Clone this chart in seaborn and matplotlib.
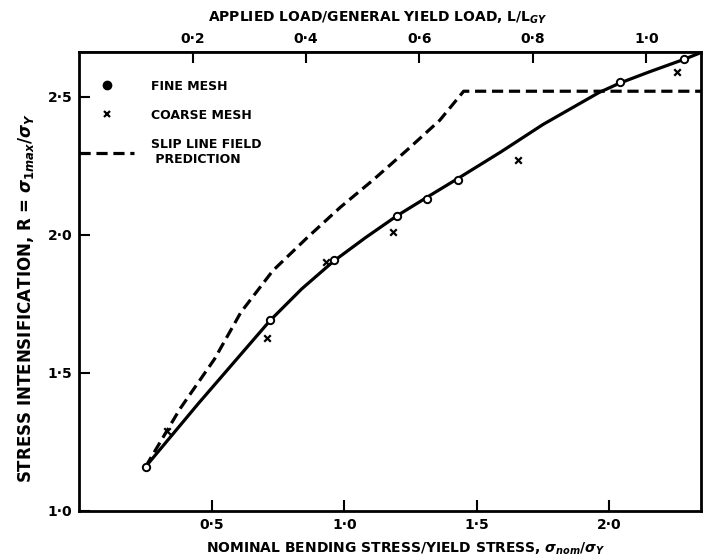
import matplotlib
matplotlib.use("Agg")
import matplotlib.pyplot as plt
from matplotlib.lines import Line2D
from matplotlib.ticker import FuncFormatter
import seaborn as sns

# FE results (sigma_nom/sigma_Y vs R)
fine_x = [0.25, 0.72, 0.96, 1.20, 1.31, 1.43, 2.04, 2.28]
fine_y = [1.16, 1.69, 1.91, 2.07, 2.13, 2.20, 2.555, 2.635]
coarse_x = [0.33, 0.71, 0.93, 1.185, 1.655, 2.255]
coarse_y = [1.29, 1.625, 1.90, 2.01, 2.27, 2.59]

# fitted curve through the fine mesh results
curve_x = [0.25, 0.45, 0.72, 0.84, 0.96, 1.08, 1.20, 1.31, 1.43, 1.59,
           1.75, 1.96, 2.04, 2.15, 2.28, 2.345]
curve_y = [1.16, 1.39, 1.69, 1.805, 1.905, 1.99, 2.07, 2.135, 2.205, 2.30,
           2.40, 2.515, 2.55, 2.59, 2.635, 2.66]

# slip line field prediction
slip_x = [0.25, 0.38, 0.51, 0.61, 0.73, 0.86, 0.985, 1.11, 1.24, 1.36, 1.45, 2.345]
slip_y = [1.16, 1.37, 1.55, 1.72, 1.87, 1.99, 2.10, 2.20, 2.31, 2.415, 2.52, 2.52]

x_ticks = [0.5, 1.0, 1.5, 2.0]
y_ticks = [1.0, 1.5, 2.0, 2.5]
top_ticks = [0.2, 0.4, 0.6, 0.8, 1.0]
load_ratio = 2.139  # sigma_nom/sigma_Y per unit L/L_GY

sns.set_theme(style="ticks")
plt.rcParams["font.family"] = ["DejaVu Sans"]
plt.rcParams["font.weight"] = "bold"
plt.rcParams["text.color"] = "black"
plt.rcParams["axes.labelcolor"] = "black"
plt.rcParams["mathtext.fontset"] = "custom"
plt.rcParams["mathtext.rm"] = "DejaVu Sans:bold"
plt.rcParams["mathtext.it"] = "DejaVu Sans:bold:italic"
plt.rcParams["mathtext.bf"] = "DejaVu Sans:bold"

fig = plt.figure(figsize=(7.04, 5.57), dpi=100)
ax = fig.add_axes([0.1126, 0.0826, 0.883, 0.824])

sns.lineplot(x=curve_x, y=curve_y, color="black", linewidth=2.3, ax=ax)
sns.lineplot(x=slip_x, y=slip_y, color="black", linewidth=2.3,
             linestyle=(0, (3.5, 1.8)), ax=ax)
sns.scatterplot(x=fine_x, y=fine_y, marker="o", s=28, facecolor="white",
                edgecolor="black", linewidth=1.4, zorder=4, ax=ax)
sns.scatterplot(x=coarse_x, y=coarse_y, marker="x", s=22, color="black",
                linewidth=1.6, zorder=4, ax=ax)

ax.set_xlim(0, 2.345)
ax.set_ylim(1.0, 2.662)
ax.set_xticks(x_ticks)
ax.set_yticks(y_ticks)
fmt = FuncFormatter(lambda v, _: f"{v:.1f}".replace(".", "·"))
ax.xaxis.set_major_formatter(fmt)
ax.yaxis.set_major_formatter(fmt)
ax.tick_params(direction="in", length=8, width=1.5, labelsize=10, colors="black")
ax.tick_params(axis="x", pad=5)
ax.tick_params(axis="y", pad=5)
for s in ax.spines.values():
    s.set_linewidth(2)
    s.set_color("black")
    s.set_visible(True)

sec = ax.secondary_xaxis("top", functions=(lambda x: x / load_ratio,
                                           lambda x: x * load_ratio))
sec.set_xticks(top_ticks)
sec.xaxis.set_major_formatter(fmt)
sec.tick_params(direction="in", length=8, width=1.5, labelsize=10, pad=4,
                colors="black")
sec.set_xlabel(r"APPLIED LOAD/GENERAL YIELD LOAD, L/L$_{GY}$", fontsize=10,
               fontweight="bold", labelpad=8)
sec.xaxis.label.set_x(0.48)

ax.set_xlabel(r"NOMINAL BENDING STRESS/YIELD STRESS, $\sigma_{nom}/\sigma_Y$",
              fontsize=10, fontweight="bold", labelpad=6)
ax.xaxis.label.set_x(0.525)
ax.set_ylabel(r"STRESS INTENSIFICATION, R = $\sigma_{1max}/\sigma_Y$",
              fontsize=12, fontweight="bold", labelpad=8)
ax.yaxis.label.set_y(0.465)

handles = [
    Line2D([], [], marker="o", color="black", linestyle="none", markersize=6),
    Line2D([], [], marker="x", color="black", linestyle="none", markersize=5,
           markeredgewidth=1.6),
    Line2D([], [], color="black", linewidth=2.3, linestyle=(0, (3.5, 1.8))),
]
labels = ["FINE MESH", "COARSE MESH", "SLIP LINE FIELD\n PREDICTION"]
ax.legend(handles, labels, loc="upper left", bbox_to_anchor=(0.0, 0.94),
          frameon=False, borderaxespad=0, borderpad=0, handlelength=4.4,
          handletextpad=1.3, labelspacing=1.3, prop={"size": 9, "weight": "bold"})

fig.savefig("out.png", dpi=100)
